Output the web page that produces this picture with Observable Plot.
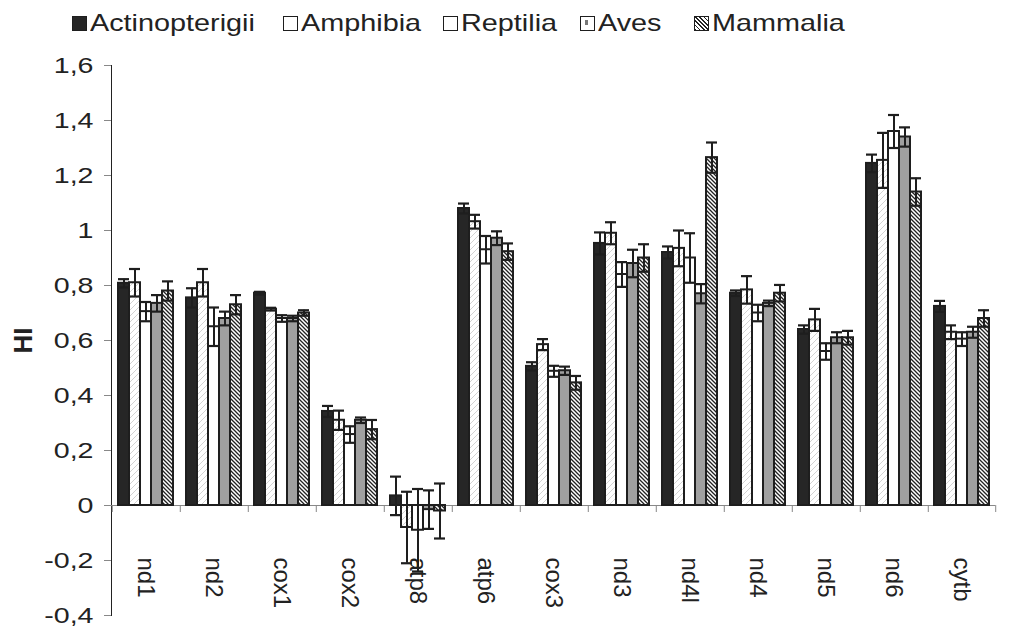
<!DOCTYPE html>
<html><head><meta charset="utf-8">
<script src="https://cdn.jsdelivr.net/npm/d3@7"></script>
<script src="https://cdn.jsdelivr.net/npm/@observablehq/plot@0.6"></script>
<style>
body{margin:0;background:#fff;font-family:"Liberation Sans",Arial,sans-serif;color:#222;}
#legend{position:relative;height:44px;width:1027px;}
.item{position:absolute;top:10px;height:26px;display:flex;align-items:center;}
.sw{box-sizing:border-box;width:15px;height:15px;border:1.6px solid #1e1e1e;margin-right:3px;position:relative;background:#fff;}
.lab{font-size:24px;display:inline-block;transform:scaleX(1.2);transform-origin:left center;white-space:nowrap;}
</style></head><body>
<div id="legend"></div>
<div id="chart"></div>
<script>
// ---- data ----
const genes = ["nd1","nd2","cox1","cox2","atp8","atp6","cox3","nd3","nd4l","nd4","nd5","nd6","cytb"];
const classes = ["Actinopterigii","Amphibia","Reptilia","Aves","Mammalia"];
const actinopterigii    = [0.808,0.755,0.772,0.342,0.035,1.080,0.506,0.953,0.920,0.772,0.640,1.244,0.724];
const actinopterigiiErr = [0.015,0.035,0.005,0.020,0.070,0.018,0.015,0.040,0.022,0.010,0.015,0.032,0.020];
const amphibia          = [0.810,0.810,0.714,0.310,-0.080,1.032,0.585,0.990,0.935,0.784,0.675,1.255,0.630];
const amphibiaErr       = [0.050,0.050,0.005,0.035,0.130,0.025,0.020,0.040,0.065,0.050,0.040,0.100,0.025];
const reptilia          = [0.705,0.650,0.680,0.258,-0.090,0.930,0.488,0.840,0.900,0.700,0.560,1.360,0.605];
const reptiliaErr       = [0.035,0.070,0.012,0.030,0.150,0.050,0.020,0.045,0.090,0.030,0.030,0.060,0.025];
const aves              = [0.735,0.680,0.680,0.310,-0.015,0.972,0.490,0.880,0.770,0.735,0.610,1.340,0.630];
const avesErr           = [0.030,0.025,0.010,0.010,0.070,0.025,0.015,0.050,0.035,0.010,0.020,0.035,0.020];
const mammalia          = [0.780,0.730,0.700,0.276,-0.020,0.923,0.446,0.900,1.265,0.772,0.610,1.140,0.680];
const mammaliaErr       = [0.035,0.035,0.010,0.035,0.100,0.030,0.025,0.050,0.055,0.030,0.025,0.050,0.030];
const yTicks = [-0.4,-0.2,0,0.2,0.4,0.6,0.8,1,1.2,1.4,1.6];
const yLabel = "HI";

const seriesValues = [actinopterigii, amphibia, reptilia, aves, mammalia];
const seriesErrs = [actinopterigiiErr, amphibiaErr, reptiliaErr, avesErr, mammaliaErr];
const rows = [];
genes.forEach((g, i) => seriesValues.forEach((vals, k) =>
  rows.push({gene: g, cls: classes[k], value: vals[i], err: seriesErrs[k][i]})));

// ---- style ----
const fills = ["#262626", "url(#pAmph)", "#ffffff", "#a0a0a0", "url(#pMamm)"];
const W = 1027, H = 582, ML = 111, MR = 32, MT = 21, MB = 11;
const PADO = 0.55;
const fw = (W - ML - MR) / genes.length;
const xb = d3.scaleBand(classes, [0, fw]).paddingInner(0).paddingOuter(PADO);
const leftDx = -(xb(classes[0]) + xb.bandwidth() / 2);
const rightDx = fw - xb(classes[classes.length - 1]) - xb.bandwidth() / 2;

// ---- legend ----
const legendX = [72, 283, 443, 580, 694];
const legend = d3.select("#legend");
classes.forEach((c, k) => {
  const it = legend.append("div").attr("class", "item").style("left", legendX[k] + "px");
  const sw = it.append("div").attr("class", "sw");
  if (k === 0) sw.style("background", "#262626");
  if (k === 3) sw.append("div").style("position","absolute").style("left","4px").style("top","3px")
      .style("width","3px").style("height","5px").style("background","#777");
  if (k === 4) sw.style("background", "repeating-linear-gradient(45deg,#222 0 1.2px,#fff 1.2px 3px)");
  it.append("span").attr("class", "lab").text(c);
});

// ---- chart ----
const chart = Plot.plot({
  width: W, height: H, marginLeft: ML, marginRight: MR, marginTop: MT, marginBottom: MB,
  style: {fontFamily: "Liberation Sans, Arial, sans-serif", fontSize: "22px", color: "#222", background: "#fff", overflow: "visible"},
  fx: {domain: genes, padding: 0, axis: null},
  x: {domain: classes, paddingInner: 0, paddingOuter: PADO, axis: null},
  y: {domain: [-0.4, 1.6], ticks: yTicks, tickFormat: d => String(d).replace(".", ","),
      tickSize: 7, tickPadding: 11, line: true, label: yLabel, labelAnchor: "center", labelOffset: 98, labelArrow: "none"},
  color: {type: "ordinal", domain: classes, range: fills, legend: false},
  marks: [
    Plot.ruleY([0], {stroke: "#888", strokeWidth: 1}),
    Plot.ruleX(genes, {fx: d => d, x: () => classes[0], y1: () => 0, y2: () => 0, insetBottom: -7, dx: leftDx, stroke: "#888", strokeWidth: 1}),
    Plot.ruleX([genes[genes.length - 1]], {fx: d => d, x: () => classes[classes.length - 1], y1: () => 0, y2: () => 0, insetBottom: -7, dx: rightDx, stroke: "#888", strokeWidth: 1}),
    Plot.barY(rows, {fx: "gene", x: "cls", y: "value", fill: "cls", stroke: "#1e1e1e", strokeWidth: 2}),
    Plot.ruleX(rows, {fx: "gene", x: "cls", y1: d => d.value - d.err, y2: d => d.value + d.err, stroke: "#1e1e1e", strokeWidth: 2}),
    Plot.tickY(rows, {fx: "gene", x: "cls", y: d => d.value + d.err, stroke: "#1e1e1e", strokeWidth: 2.2}),
    Plot.tickY(rows, {fx: "gene", x: "cls", y: d => d.value - d.err, stroke: "#1e1e1e", strokeWidth: 2.2}),
    Plot.text(genes, {fx: d => d, y: () => 0, text: d => d, rotate: 90, textAnchor: "start", dy: 52, fontSize: 24, fill: "#222"})
  ]
});
document.getElementById("chart").appendChild(chart);

// patterns
const svg = d3.select(chart);
const defs = svg.insert("defs", ":first-child");
const pa = defs.append("pattern").attr("id", "pAmph").attr("patternUnits", "userSpaceOnUse").attr("width", 6).attr("height", 6);
pa.append("rect").attr("width", 6).attr("height", 6).attr("fill", "#fff");
pa.append("path").attr("d", "M0,6L6,0M-1,1L1,-1M5,7L7,5").attr("stroke", "#c8c8c8").attr("stroke-width", 0.8);
const pm = defs.append("pattern").attr("id", "pMamm").attr("patternUnits", "userSpaceOnUse").attr("width", 4).attr("height", 4);
pm.append("rect").attr("width", 4).attr("height", 4).attr("fill", "#fff");
pm.append("path").attr("d", "M0,0L4,4M-1,3L1,5M3,-1L5,1").attr("stroke", "#222").attr("stroke-width", 1.3);

// axis styling
svg.selectAll('[aria-label="y-axis tick"], [aria-label="y-axis tick"] *').attr("stroke", "#888");
svg.selectAll('[aria-label="y-axis line"], [aria-label="y-axis line"] *').attr("stroke", "#999");
svg.selectAll('[aria-label="y-axis tick label"] text').each(function() {
  const w = this.getComputedTextLength();
  this.setAttribute("textLength", w * 1.3);
  this.setAttribute("lengthAdjust", "spacingAndGlyphs");
});
svg.selectAll('[aria-label="y-axis label"] text').attr("font-weight", "bold").attr("font-size", "26px");
</script>
</body></html>
